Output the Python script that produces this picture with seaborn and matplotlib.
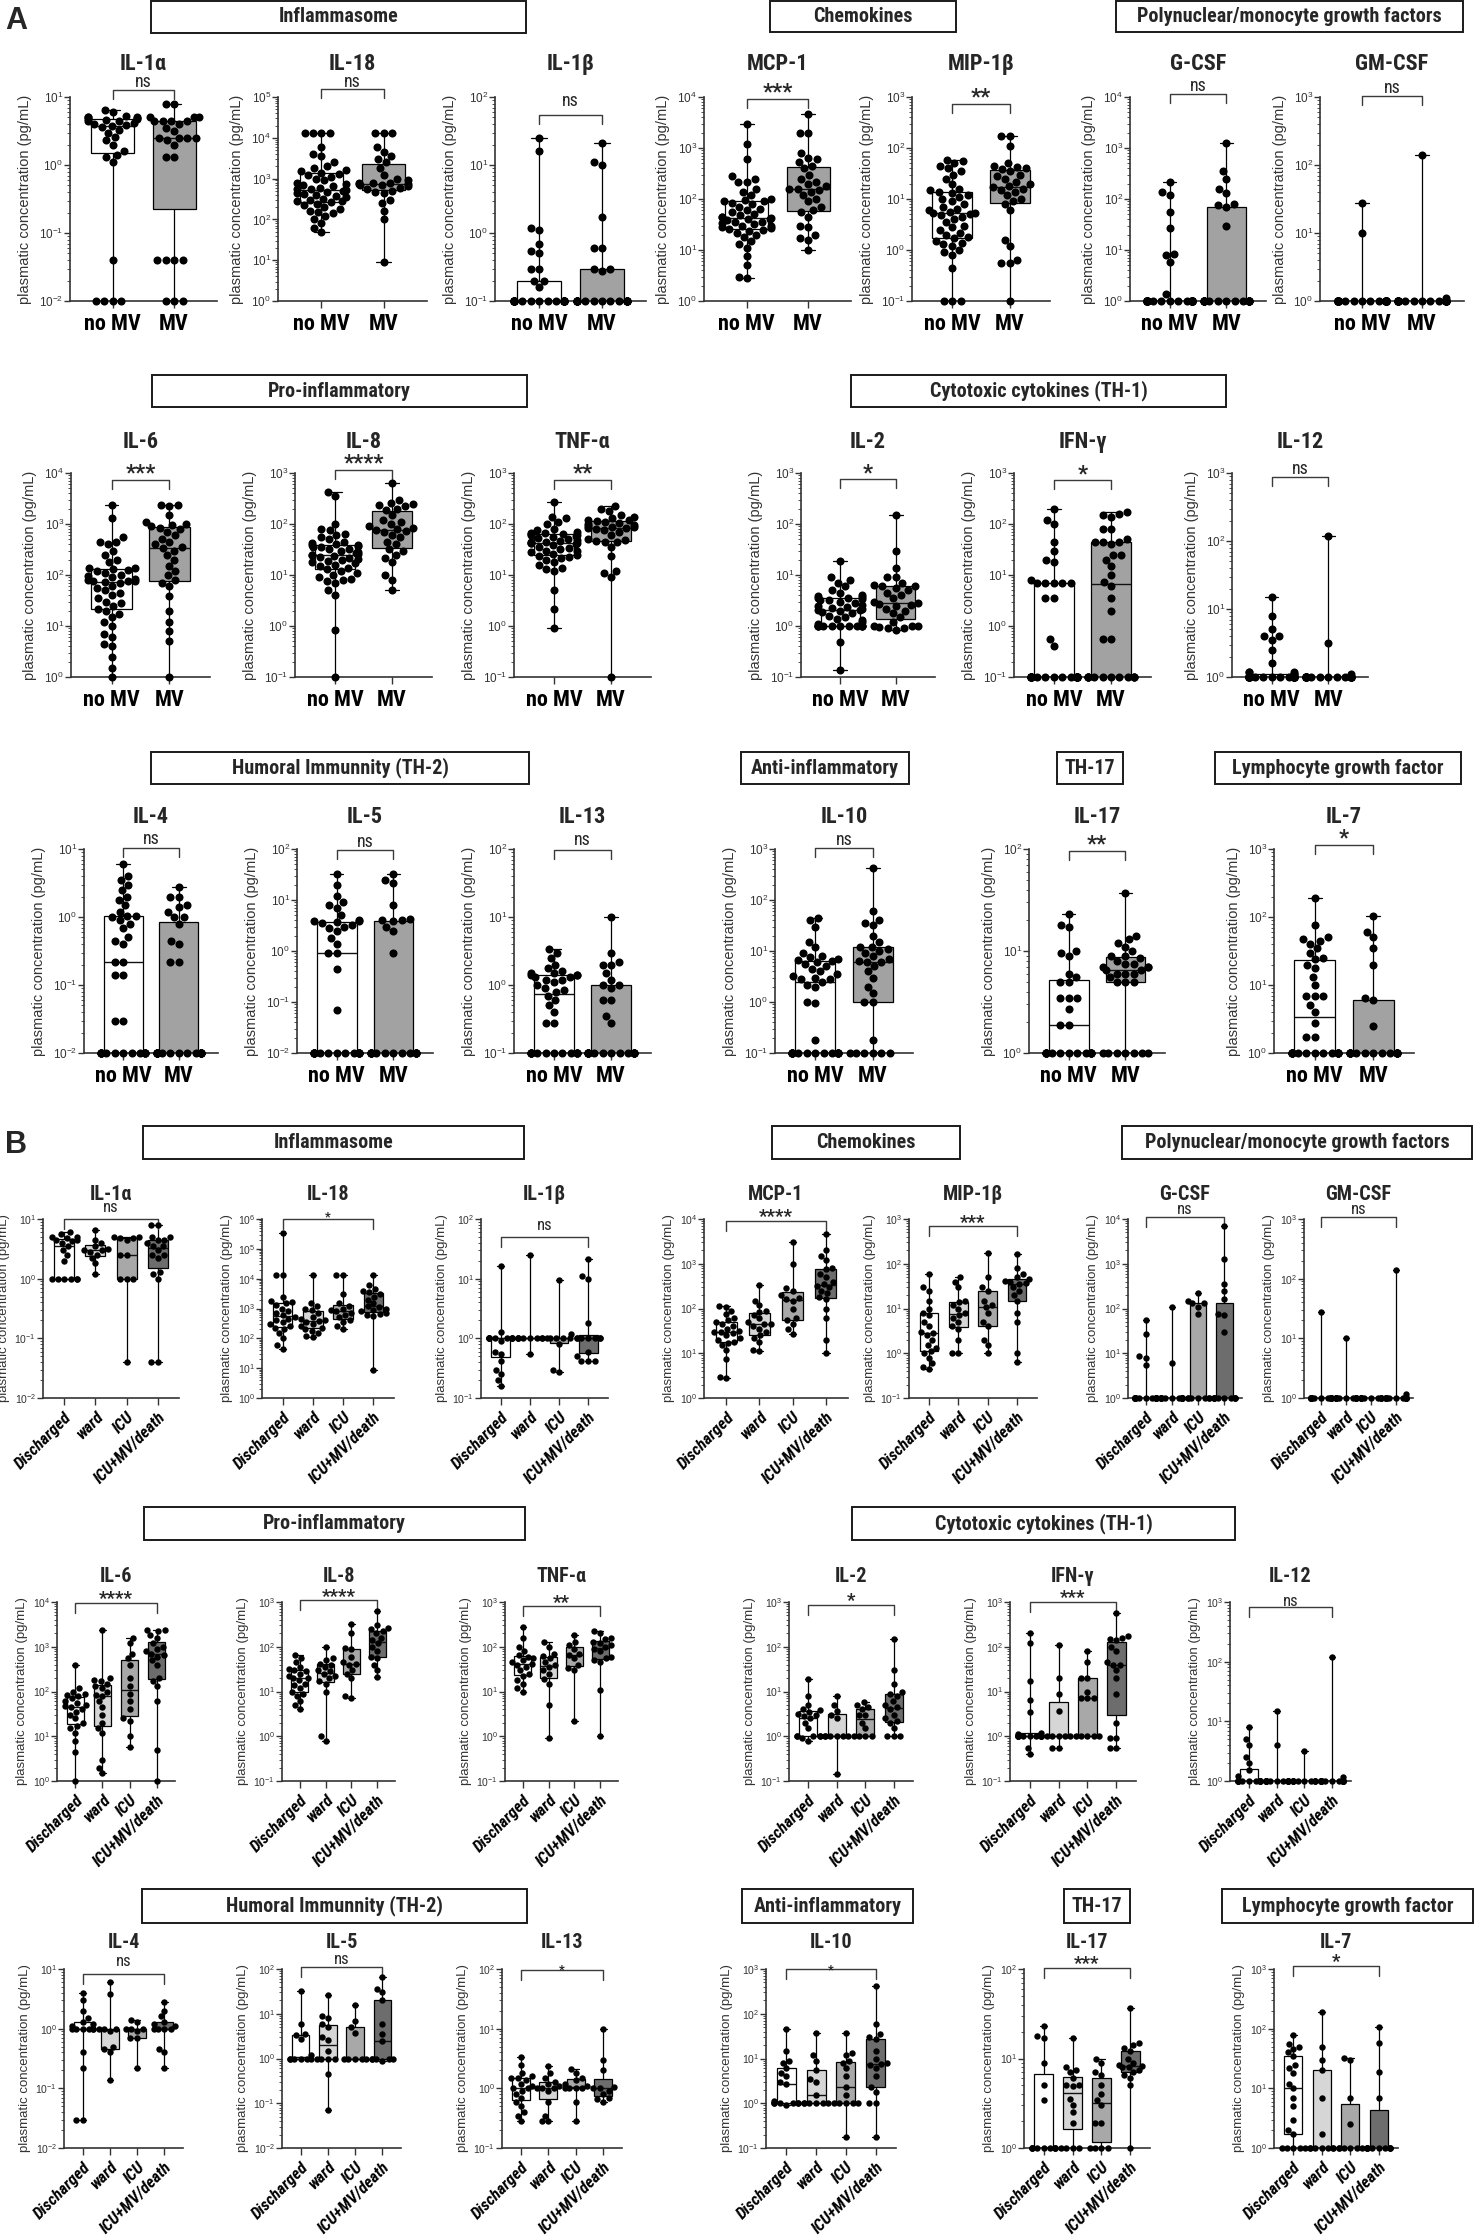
import warnings
import matplotlib
matplotlib.use("Agg")
from matplotlib import pyplot as plt
from matplotlib import font_manager as fm
from matplotlib.patches import Rectangle
from matplotlib.ticker import FixedLocator, LogLocator, NullFormatter
import matplotlib.transforms as mtransforms
import seaborn as sns
import pandas as pd
import numpy as np

warnings.filterwarnings("ignore")

GROUPS_A = ["no MV", "MV"]
GROUPS_B = ["Discharged", "ward", "ICU", "ICU+MV/death"]
COLORS_A = ["#ffffff", "#a2a2a2"]
COLORS_B = ["#ffffff", "#d6d6d6", "#a8a8a8", "#6d6d6d"]

# ---------- panel A : no MV / MV ----------
A_IL1A = [
    [6.5, 6.0, 5.2, 5.0, 5.0, 5.0, 4.9, 4.8, 4.7, 4.6, 4.5, 4.4, 4.2, 4.0, 3.9, 3.8,
     3.6, 3.3, 3.0, 2.6, 2.3, 2.0, 1.6, 1.4, 1.3, 1.1, 0.04] + [0.01] * 4,
    [8, 8, 5, 5, 5, 4.5, 4.5, 4.5, 4.5, 4.0, 3.5, 3.2, 2.5, 2.5, 2.5, 2.5, 2.3, 2.0, 1.3,
     1.3, 0.04, 0.04, 0.04, 0.04, 0.01, 0.01, 0.01],
]
A_IL18 = [
    [13000] * 4 + [6000, 4000, 3500, 2500, 2000, 1800, 1600, 1500, 1400, 1300, 1200, 1100,
     1000, 900, 800, 750, 700, 650, 600, 560, 550, 520, 500, 480, 450, 420, 400, 380, 350,
     320, 300, 290, 280, 260, 240, 220, 200, 180, 160, 150, 140, 120, 100, 80, 60, 50],
    [13000] * 3 + [6000, 4500, 3500, 3000, 2500, 1800, 1200, 1000, 900, 800, 780, 760, 740,
     720, 700, 680, 650, 600, 550, 500, 480, 450, 300, 250, 160, 100, 9],
]
A_IL1B = [
    [25, 16, 1.2, 1.1, 0.7, 0.55, 0.5, 0.3, 0.3, 0.2, 0.2, 0.16] + [0.1] * 28,
    [21, 11, 10, 1.7, 0.6, 0.6, 0.3, 0.3, 0.28] + [0.1] * 21,
]
A_MCP1 = [
    [3000, 1200, 600, 280, 250, 220, 220, 160, 140, 120, 100, 95, 92, 90, 85, 80, 70, 65,
     60, 55, 50, 48, 45, 44, 42, 41, 40, 38, 36, 35, 34, 32, 30, 29, 28, 27, 26, 25, 24, 22,
     20, 18, 15, 13, 11, 7.5, 5, 3, 2.8],
    [4700, 2000, 2000, 800, 650, 600, 540, 450, 400, 300, 250, 220, 200, 180, 160, 160, 150,
     140, 120, 100, 90, 70, 60, 55, 45, 30, 28, 20, 17, 16, 10],
]
A_MIP1B = [
    [58, 55, 50, 45, 40, 35, 30, 25, 20, 16, 15, 14, 13, 12, 11, 10, 9, 8, 7, 6.5, 6, 5.5,
     5.2, 5.2, 5, 4.8, 4.5, 4, 3.5, 3, 2.8, 2.5, 2.2, 2, 1.8, 1.7, 1.5, 1.4, 1.3, 1.2, 1,
     0.9, 0.8, 0.45, 0.1, 0.1, 0.1],
    [175, 170, 110, 50, 45, 42, 40, 38, 35, 30, 28, 25, 22, 20, 18, 17, 16, 15, 14, 12, 10,
     9, 8, 6, 1.6, 1.2, 0.65, 0.55, 0.55, 0.1],
]
A_GCSF = [
    [220, 140, 120, 55, 27, 8.5, 8, 5.8, 1.4] + [1] * 40,
    [1250, 350, 250, 160, 130, 80, 75, 70, 30] + [1] * 20,
]
A_GMCSF = [
    [28, 10] + [1] * 47,
    [140, 1.1] + [1] * 30,
]
A_IL6 = [
    [2400, 1300, 550, 450, 450, 400, 300, 250, 200, 180, 140, 135, 130, 125, 120, 110, 100,
     95, 90, 85, 80, 78, 76, 75, 74, 70, 60, 55, 50, 45, 40, 35, 30, 28, 25, 22, 20, 17, 15,
     12, 10, 7, 6, 4.5, 4, 2.5, 1.5, 1],
    [2400, 2400, 2300, 1500, 1100, 1000, 950, 900, 850, 800, 700, 600, 500, 450, 400, 350,
     340, 300, 250, 200, 150, 120, 100, 80, 70, 60, 38, 20, 12, 8, 5, 1],
]
A_IL8 = [
    [420, 350, 100, 80, 75, 65, 60, 55, 50, 45, 42, 40, 39, 38, 37, 36, 35, 33, 32, 30, 28,
     27, 26, 25, 25, 24, 23, 22, 21, 20, 19, 18, 17, 16, 15, 14, 13, 12, 11, 10, 9, 8.5, 8,
     7.5, 7, 5, 4, 0.85, 0.1],
    [640, 300, 260, 250, 240, 230, 200, 190, 150, 120, 110, 100, 90, 85, 80, 75, 72, 70, 60,
     55, 45, 40, 32, 30, 25, 22, 18, 10, 8, 5],
]
A_TNFA = [
    [270, 140, 130, 110, 100, 80, 75, 70, 68, 66, 65, 64, 62, 60, 58, 55, 52, 50, 48, 46,
     45, 44, 43, 43, 42, 40, 38, 36, 34, 32, 30, 29, 28, 26, 25, 24, 23, 22, 20, 18, 16, 14,
     13, 12, 5, 2.2, 0.9],
    [230, 200, 180, 150, 140, 130, 120, 118, 115, 110, 105, 100, 95, 90, 88, 86, 85, 84, 80,
     75, 70, 60, 50, 48, 46, 45, 45, 35, 24, 12, 11, 9, 0.1],
]
A_IL2 = [
    [19, 9, 8, 7, 6, 5, 4.5, 4, 3.8, 3.7, 3.6, 3.5, 3.4, 3.3, 3.2, 3, 2.8, 2.6, 2.5, 2.4,
     2.3, 2.2, 2.1, 2.1, 2, 1.9, 1.8, 1.6, 1.5, 1.4, 1.3, 1.2, 1.1] + [1] * 11 + [0.48, 0.14],
    [150, 30, 14, 9, 9, 7, 6.5, 6, 6, 5.5, 5, 4.5, 4, 3.5, 3, 2.8, 2.7, 2.6, 2.5, 2.2, 2,
     1.8, 1.5, 1.2, 1, 1, 1, 0.95, 0.9, 0.9, 0.85],
]
A_IFNG = [
    [200, 120, 100, 45, 30, 20, 18, 8, 7, 7, 7, 7, 7, 3.6, 3.6, 0.55, 0.4] + [0.1] * 30,
    [170, 160, 150, 140, 80, 80, 50, 45, 45, 45, 40, 25, 25, 20, 15, 10, 7.2, 6, 3.5, 2,
     0.55, 0.55] + [0.1] * 12,
]
A_IL12 = [
    [15, 8, 5, 4, 4, 3.5, 2.5, 1.6, 1.2, 1.2, 1.2, 1.1, 1.1, 1.05] + [1] * 35,
    [120, 3.2, 1.1] + [1] * 30,
]
A_IL4 = [
    [6, 4, 3.5, 3, 2.5, 2, 1.8, 1.5, 1.2, 1.05, 1.03, 1, 0.9, 0.8, 0.7, 0.5, 0.45, 0.4, 0.22,
     0.22, 0.14, 0.14, 0.03, 0.03] + [0.01] * 14,
    [2.8, 2, 2, 1.5, 1.4, 1.2, 1, 1, 0.8, 0.45, 0.4, 0.22, 0.22] + [0.01] * 19,
]
A_IL5 = [
    [33, 20, 12, 9, 8, 7, 5, 4, 3.9, 3.8, 3.7, 3.5, 3.2, 3, 2.8, 2.5, 1.8, 1.4, 0.9, 0.9,
     0.45, 0.07] + [0.01] * 16,
    [32, 25, 22, 8, 4.2, 4.1, 4, 3.8, 3, 2.5, 0.9] + [0.01] * 16,
]
A_IL13 = [
    [3.4, 3, 2.5, 2, 1.8, 1.6, 1.5, 1.5, 1.4, 1.4, 1.4, 1.3, 1.3, 1.2, 1.2, 1.1, 1, 0.9,
     0.85, 0.8, 0.7, 0.6, 0.5, 0.4, 0.28, 0.28] + [0.1] * 14,
    [10, 3, 2.2, 2, 2, 1.5, 1.2, 1, 1, 0.9, 0.6, 0.6, 0.35, 0.28] + [0.1] * 18,
]
A_IL10 = [
    [45, 40, 30, 15, 12, 9, 8, 7.5, 7, 6.8, 6.5, 6, 5.5, 5, 4.5, 4, 3.5, 3.2, 3, 2.8, 2.8,
     2.5, 2.2, 2, 1, 0.95, 0.18] + [0.1] * 16,
    [420, 60, 40, 35, 32, 20, 15, 12, 12, 11, 10, 9, 8, 7, 6.5, 6.2, 6, 5, 4, 3, 2, 1.5, 1,
     1, 0.18] + [0.1] * 6,
]
A_IL17 = [
    [23, 18, 17, 10, 9.5, 9, 6, 5.5, 5, 5, 3.5, 3.5, 3.5, 2.7, 1.9, 1.9] + [1] * 15,
    [37, 14, 13, 12, 11, 10, 9, 9, 8.5, 8, 7.5, 7.5, 7, 7, 7, 6.5, 6.5, 6, 6, 6, 5.5, 5, 5,
     5] + [1] * 7,
]
A_IL7 = [
    [190, 75, 50, 48, 45, 40, 35, 30, 25, 24, 20, 18, 13, 10, 7, 7, 7, 5, 4, 2.8, 1.7,
     1.7] + [1] * 16,
    [105, 60, 50, 35, 20, 6.5, 6, 2.5] + [1] * 17,
]

# ---------- panel B : Discharged / ward / ICU / ICU+MV/death ----------
B_IL1A = [
    [6, 5.5, 5, 5, 4.8, 4.5, 4.5, 4.2, 4, 3.5, 3, 2.5, 2, 1, 1, 1, 1, 1, 1],
    [6.5, 4.5, 4, 3.5, 3.2, 3, 3, 2.8, 2.5, 2.2, 1.8, 1.2],
    [5, 5, 4.8, 4.8, 4.5, 2.5, 2.5, 1, 1, 1, 0.04],
    [8, 8, 5, 5, 4.5, 4.5, 4, 3.5, 3.5, 3, 2.5, 2.5, 2.2, 1.3, 1.2, 1, 0.04, 0.04],
]
B_IL18 = [
    [350000, 13000, 13000, 2500, 1800, 1700, 1500, 1300, 1000, 800, 700, 600, 500, 450, 400,
     350, 300, 250, 230, 200, 150, 100, 60, 45],
    [13000, 1500, 1200, 1000, 900, 700, 500, 450, 400, 380, 350, 300, 250, 220, 210, 180,
     150, 120, 110],
    [13000, 13000, 3000, 1500, 1200, 1000, 900, 800, 700, 600, 500, 400, 350, 250, 200],
    [13000, 6000, 4500, 4000, 3500, 3000, 2500, 2000, 1500, 1200, 1100, 1000, 900, 800, 700,
     650, 600, 550, 9],
]
B_IL1B = [
    [16, 1.3, 1, 1, 1, 1, 1, 1, 1, 1, 1, 0.9, 0.6, 0.55, 0.42, 0.3, 0.25, 0.2, 0.16],
    [25, 1, 1, 1, 1, 1, 1, 1, 1, 0.55],
    [9.5, 1.2, 1, 1, 1, 1, 1, 0.8, 0.3, 0.27],
    [21, 11, 10, 1.8] + [1] * 7 + [0.6, 0.5, 0.42, 0.42, 0.42],
]
B_MCP1 = [
    [115, 110, 90, 75, 60, 55, 50, 45, 40, 35, 32, 30, 30, 28, 25, 22, 20, 18, 17, 15, 12,
     7.5, 3, 2.8],
    [340, 150, 120, 90, 85, 70, 60, 50, 45, 45, 40, 35, 30, 25, 22, 18, 12, 11],
    [3000, 1000, 280, 250, 200, 170, 160, 150, 100, 60, 55, 45, 35, 27],
    [4700, 2000, 1500, 1200, 800, 750, 600, 500, 400, 350, 320, 300, 250, 220, 180, 160,
     100, 60, 20, 10],
]
B_MIP1B = [
    [58, 30, 25, 15, 10, 8, 7, 5, 4, 3, 2.8, 2.5, 2, 1.5, 1.3, 1.1, 1, 0.8, 0.6, 0.5, 0.45],
    [50, 40, 30, 15, 14, 12, 10, 8, 7, 6, 5, 4, 3.5, 2, 1, 1],
    [175, 50, 30, 25, 15, 12, 11, 8, 5, 4, 2, 1.5, 1],
    [165, 80, 60, 50, 45, 42, 40, 38, 35, 30, 25, 20, 15, 8, 5, 1, 0.65],
]
B_GCSF = [
    [55, 27, 8.5, 8, 5.5] + [1] * 20,
    [110, 6] + [1] * 15,
    [220, 150, 130, 130, 110, 75] + [1] * 7,
    [7000, 1300, 350, 250, 160, 75, 70, 30] + [1] * 10,
]
B_GMCSF = [
    [28] + [1] * 20,
    [10] + [1] * 14,
    [1] * 12,
    [140, 1.15] + [1] * 18,
]
B_IL6 = [
    [400, 120, 100, 90, 85, 80, 70, 60, 55, 50, 48, 45, 40, 35, 30, 25, 20, 17, 15, 12, 8,
     4.5, 1],
    [2400, 200, 180, 170, 150, 130, 120, 100, 85, 80, 60, 45, 30, 20, 15, 12, 3, 2, 1.5],
    [1600, 1200, 700, 550, 400, 200, 130, 90, 60, 40, 25, 22, 10, 5.8],
    [2400, 2400, 2200, 1800, 1600, 1200, 1000, 900, 800, 700, 650, 600, 500, 400, 200, 170,
     130, 60, 5, 1],
]
B_IL8 = [
    [65, 55, 45, 35, 32, 30, 28, 25, 22, 20, 20, 18, 15, 14, 12, 10, 9, 8, 6, 5, 4],
    [100, 55, 50, 42, 40, 35, 30, 28, 25, 22, 20, 17, 15, 10, 1, 0.8],
    [320, 200, 95, 90, 60, 45, 42, 40, 30, 25, 20, 8, 7],
    [640, 300, 260, 250, 220, 200, 160, 140, 120, 100, 80, 60, 55, 40, 30, 21],
]
B_TNFA = [
    [270, 160, 100, 80, 65, 60, 55, 50, 45, 42, 40, 35, 30, 25, 22, 18, 15, 12, 10],
    [125, 100, 70, 62, 55, 45, 40, 35, 30, 25, 19, 15, 5, 0.9],
    [185, 130, 110, 90, 70, 65, 55, 40, 33, 30, 2.2],
    [230, 200, 160, 150, 130, 120, 110, 100, 90, 80, 60, 55, 50, 45, 11, 1],
]
B_IL2 = [
    [19, 8, 5, 4, 3.8, 3.5, 3.2, 3, 2.8, 2.5, 2, 1.5, 1, 1, 1, 1, 1, 0.9, 0.8],
    [8, 5, 3.7, 3, 2.5, 1, 1, 1, 1, 1, 1, 0.14],
    [5.8, 5, 4.5, 4, 3, 3, 2, 1.5, 1, 1, 1, 1],
    [150, 30, 15, 10, 9, 8, 6, 5, 4.5, 4, 3, 2.5, 2.2, 2, 1.5, 1, 1, 1],
]
B_IFNG = [
    [200, 120, 17, 6.5, 3.5, 1.2, 1.1] + [1] * 12 + [0.55, 0.4],
    [110, 20, 9, 3.7, 1, 1, 1, 1, 1, 0.55, 0.55],
    [80, 45, 20, 20, 10, 7, 7, 7, 1, 1, 1, 1, 1],
    [560, 170, 160, 150, 140, 100, 80, 45, 40, 40, 30, 20, 9, 2, 0.9, 0.9, 0.55, 0.55],
]
B_IL12 = [
    [8, 5, 4, 2.5, 2, 1.5, 1.2] + [1] * 13,
    [15, 4] + [1] * 14,
    [3.2] + [1] * 10,
    [120, 1.15] + [1] * 18,
]
B_IL4 = [
    [4, 3, 2, 1.5, 1.3, 1.2, 1.1, 1, 1, 1, 1, 1, 1, 0.4, 0.22, 0.03, 0.03],
    [6, 3.8, 1, 1, 1, 0.9, 0.5, 0.45, 0.4, 0.14],
    [1.4, 1.3, 1, 1, 1, 0.9, 0.7, 0.7, 0.22],
    [2.8, 2, 1.6, 1.3, 1.2, 1.1, 1, 1, 1, 1, 0.45, 0.4, 0.22],
]
B_IL5 = [
    [33, 6, 3.5, 3.4, 2.7, 1.2, 1, 1, 1, 1, 1, 1],
    [26, 9, 8, 6, 5, 3, 2.6, 1.5, 1, 1, 1, 1, 0.45, 0.07],
    [16, 7, 5, 3.8, 1, 1, 1, 1, 1],
    [65, 35, 30, 20, 6, 3.5, 2.5, 1, 1, 1, 1, 1, 0.9],
]
B_IL13 = [
    [3.3, 2.5, 1.8, 1.6, 1.5, 1.5, 1.4, 1.2, 1.1, 1, 1, 0.9, 0.8, 0.7, 0.6, 0.5, 0.4, 0.35,
     0.28],
    [2.4, 1.8, 1.5, 1.3, 1.2, 1.1, 1, 1, 1, 0.9, 0.6, 0.35, 0.28, 0.28],
    [2.1, 1.8, 1.5, 1.4, 1.2, 1.1, 1, 1, 1, 1, 0.6, 0.28],
    [10, 3, 2, 1.05, 1, 1, 0.9, 0.8, 0.7, 0.65, 0.6],
]
B_IL10 = [
    [45, 15, 9, 8, 6, 4.8, 4, 3, 2.7, 1.1, 1, 1, 1, 1, 1, 1, 0.9],
    [38, 12, 9, 5.5, 3.5, 3, 1.5, 1, 1, 1, 1, 1, 1],
    [38, 13, 12, 9, 8, 6, 4, 2.3, 1.5, 1, 1, 1, 1, 1, 0.18],
    [420, 60, 35, 30, 27, 15, 10, 8, 7.5, 7, 6, 4, 2.3, 1.8, 1, 1, 0.18],
]
B_IL17 = [
    [23, 18, 17, 9, 5, 3.4] + [1] * 9,
    [17, 8, 7.5, 7, 6, 5, 5, 4.9, 3.5, 3, 2.5, 1.9, 1, 1, 1, 1],
    [10, 9, 7, 6.5, 5, 4, 3.4, 3, 1.9, 1.9, 1, 1, 1, 1],
    [37, 15, 14, 13, 12, 10, 9, 8.5, 8.2, 8, 8, 7.5, 7, 6.5, 6, 5, 1],
]
B_IL7 = [
    [78, 55, 50, 45, 40, 35, 25, 22, 18, 12, 10, 7, 5, 3, 2, 1.7, 1, 1, 1, 1, 1],
    [190, 50, 30, 20, 7, 1.7, 1, 1, 1, 1, 1, 1, 1],
    [32, 30, 7, 2.5, 1, 1, 1, 1, 1, 1],
    [105, 58, 19, 7] + [1] * 10,
]

# ---------- layout (pixels of the 1476 x 2239 page) ----------
W, H = 1476, 2239

# (title, data, log lo, log hi, x0, x1, significance, bracket y, text y)
ROWS = [
    ("A", 97, 301, 64, [
        ("IL-1α", A_IL1A, -2, 1, 70, 217, "ns", 90, 82),
        ("IL-18", A_IL18, 0, 5, 278, 427, "ns", 89, 82),
        ("IL-1β", A_IL1B, -1, 2, 495, 646, "ns", 115, 101),
        ("MCP-1", A_MCP1, 0, 4, 704, 851, "***", 99, 86),
        ("MIP-1β", A_MIP1B, -1, 3, 912, 1050, "**", 104, 91),
        ("G-CSF", A_GCSF, 0, 4, 1130, 1266, "ns", 94, 86),
        ("GM-CSF", A_GMCSF, 0, 3, 1320, 1464, "ns", 96, 88),
    ]),
    ("A", 473, 677, 442, [
        ("IL-6", A_IL6, 0, 4, 71, 210, "***", 480, 467),
        ("IL-8", A_IL8, -1, 3, 295, 432, "****", 470, 457),
        ("TNF-α", A_TNFA, -1, 3, 514, 651, "**", 480, 467),
        ("IL-2", A_IL2, -1, 3, 801, 935, "*", 479, 467),
        ("IFN-γ", A_IFNG, -1, 3, 1014, 1151, "*", 480, 468),
        ("IL-12", A_IL12, 0, 3, 1232, 1368, "ns", 477, 469),
    ]),
    ("A", 849, 1053, 817, [
        ("IL-4", A_IL4, -2, 1, 84, 218, "ns", 848, 839),
        ("IL-5", A_IL5, -2, 2, 297, 433, "ns", 850, 842),
        ("IL-13", A_IL13, -1, 2, 514, 651, "ns", 850, 840),
        ("IL-10", A_IL10, -1, 3, 775, 913, "ns", 848, 840),
        ("IL-17", A_IL17, 0, 2, 1029, 1165, "**", 851, 838),
        ("IL-7", A_IL7, 0, 3, 1274, 1414, "*", 845, 832),
    ]),
    ("B", 1219, 1398, 1194, [
        ("IL-1α", B_IL1A, -2, 1, 43, 179, "ns", 1219, 1208),
        ("IL-18", B_IL18, 0, 6, 262, 394, "*", 1219, 1213),
        ("IL-1β", B_IL1B, -1, 2, 481, 608, "ns", 1237, 1225),
        ("MCP-1", B_MCP1, 0, 4, 704, 848, "****", 1221, 1211),
        ("MIP-1β", B_MIP1B, -1, 3, 909, 1037, "***", 1226, 1217),
        ("G-CSF", B_GCSF, 0, 4, 1128, 1242, "ns", 1217, 1209),
        ("GM-CSF", B_GMCSF, 0, 3, 1304, 1413, "ns", 1217, 1210),
    ]),
    ("B", 1602, 1781, 1576, [
        ("IL-6", B_IL6, 0, 4, 57, 175, "****", 1603, 1593),
        ("IL-8", B_IL8, -1, 3, 282, 395, "****", 1600, 1591),
        ("TNF-α", B_TNFA, -1, 3, 505, 618, "**", 1606, 1597),
        ("IL-2", B_IL2, -1, 3, 789, 913, "*", 1605, 1595),
        ("IFN-γ", B_IFNG, -1, 3, 1010, 1136, "***", 1602, 1592),
        ("IL-12", B_IL12, 0, 3, 1230, 1351, "ns", 1607, 1601),
    ]),
    ("B", 1969, 2148, 1942, [
        ("IL-4", B_IL4, -2, 1, 64, 183, "ns", 1974, 1961),
        ("IL-5", B_IL5, -2, 2, 282, 401, "ns", 1967, 1959),
        ("IL-13", B_IL13, -1, 2, 502, 622, "*", 1970, 1966),
        ("IL-10", B_IL10, -1, 3, 766, 896, "*", 1969, 1966),
        ("IL-17", B_IL17, 0, 2, 1024, 1150, "***", 1968, 1958),
        ("IL-7", B_IL7, 0, 3, 1274, 1398, "*", 1966, 1956),
    ]),
]

HEADERS = [
    ("Inflammasome", 151, 526, 1, 33),
    ("Chemokines", 770, 956, 1, 32),
    ("Polynuclear/monocyte growth factors", 1116, 1463, 1, 32),
    ("Pro-inflammatory", 152, 527, 375, 407),
    ("Cytotoxic cytokines (TH-1)", 851, 1226, 375, 407),
    ("Humoral Immunnity (TH-2)", 151, 529, 752, 784),
    ("Anti-inflammatory", 741, 909, 752, 784),
    ("TH-17", 1057, 1123, 752, 784),
    ("Lymphocyte growth factor", 1215, 1461, 752, 784),
    ("Inflammasome", 143, 524, 1126, 1159),
    ("Chemokines", 772, 960, 1126, 1159),
    ("Polynuclear/monocyte growth factors", 1122, 1472, 1126, 1159),
    ("Pro-inflammatory", 144, 525, 1507, 1540),
    ("Cytotoxic cytokines (TH-1)", 852, 1235, 1507, 1540),
    ("Humoral Immunnity (TH-2)", 142, 527, 1889, 1923),
    ("Anti-inflammatory", 742, 913, 1889, 1923),
    ("TH-17", 1064, 1130, 1889, 1923),
    ("Lymphocyte growth factor", 1222, 1473, 1889, 1923),
]


def pick_narrow():
    # the reference uses a condensed bold sans; take the narrowest one installed
    names = {f.name for f in fm.fontManager.ttflist}
    for cand in ("Liberation Sans Narrow", "Roboto Condensed", "Noto Sans Condensed",
                 "Open Sans Condensed", "Arial Narrow", "DejaVu Sans Condensed"):
        if cand in names:
            return cand, "normal", True
    for f in fm.fontManager.ttflist:
        if "condensed" in str(f.stretch).lower() and "italic" not in str(f.style):
            return f.name, "condensed", True
    return "Roboto", "normal", False


NARROW_NAME, NARROW_STRETCH, IS_NARROW = pick_narrow()
K = 1.0 if IS_NARROW else 0.88


def nfont(**kw):
    kw.setdefault("family", [NARROW_NAME, "DejaVu Sans"])
    kw.setdefault("stretch", NARROW_STRETCH)
    return kw


def header(fig, text, x0, x1, y0, y1):
    fig.patches.append(Rectangle((x0 / W, 1 - y1 / H), (x1 - x0) / W, (y1 - y0) / H,
                                 transform=fig.transFigure, fill=False, lw=1.4,
                                 ec="#1a1a1a"))
    fig.text((x0 + x1) / 2 / W, 1 - (y0 + y1) / 2 / H, text, ha="center", va="center",
             fontsize=14.5 * K, **nfont(weight="bold"))


def panel(fig, part, top, bottom, title_y, spec):
    title, data, lo, hi, x0, x1, sig, br_y, sig_y = spec
    if part == "A":
        groups, colors, bw, dot, xl = GROUPS_A, COLORS_A, 0.7, 5.8, (-0.7, 1.7)
    else:
        groups, colors, bw, dot, xl = GROUPS_B, COLORS_B, 0.64, 4.6, (-0.68, 3.68)
    df = pd.DataFrame({
        "group": np.repeat(groups, [len(v) for v in data]),
        "value": np.concatenate([np.asarray(v, float) for v in data]),
    })
    hpx = bottom - top
    ax = fig.add_axes([x0 / W, 1 - bottom / H, (x1 - x0) / W, hpx / H])
    box_kw = dict(data=df, x="group", y="value", hue="group", order=groups,
                  hue_order=groups, palette=colors, saturation=1, whis=(0, 100),
                  width=bw, linecolor="black", linewidth=0.9, showfliers=False,
                  log_scale=True, legend=False, ax=ax,
                  medianprops={"color": "#111111", "linewidth": 1.0})
    try:
        sns.boxplot(capwidths=0.24, **box_kw)
    except Exception:
        ax.cla()
        sns.boxplot(**box_kw)
    sns.swarmplot(data=df, x="group", y="value", order=groups, color="black",
                  size=dot, log_scale=True, clip_on=False, zorder=5, ax=ax)

    ax.set_xlim(*xl)
    ax.set_ylim(10.0 ** lo, 10.0 ** hi)
    ax.yaxis.set_major_locator(FixedLocator([10.0 ** k for k in range(lo, hi + 1)]))
    ax.set_yticklabels([f"$10^{{{k}}}$" for k in range(lo, hi + 1)])
    ax.yaxis.set_minor_locator(LogLocator(base=10, subs=np.arange(2, 10), numticks=20))
    ax.yaxis.set_minor_formatter(NullFormatter())
    for s in ("top", "right"):
        ax.spines[s].set_visible(False)
    for s in ("left", "bottom"):
        ax.spines[s].set_color("#333333")
        ax.spines[s].set_linewidth(1.2)
    ax.tick_params(axis="y", which="major", length=4, width=1,
                   labelsize=8.5 if part == "A" else 7.5, colors="#333333", pad=1)
    ax.tick_params(axis="y", which="minor", length=2, width=0.6, colors="#333333")
    ax.tick_params(axis="x", length=5, width=1, colors="#333333", labelcolor="black")
    ax.set_xlabel("")
    ax.set_ylabel("plasmatic concentration (pg/mL)", fontsize=10.5 if part == "A" else 9.5,
                  color="#333333", labelpad=5 if part == "A" else 3)
    ax.set_xticks(range(len(groups)))
    if part == "A":
        ax.set_xticklabels(groups, fontsize=16 * K, **nfont(weight="bold"))
    else:
        ax.set_xticklabels(groups, fontsize=12 * K, rotation=45, ha="right",
                           rotation_mode="anchor",
                           **nfont(weight="bold", style="italic"))

    # significance bracket
    blend = mtransforms.blended_transform_factory(ax.transData, ax.transAxes)
    yb = (bottom - br_y) / hpx
    drop = (9 if part == "A" else 10) / hpx
    x_end = len(groups) - 1
    ax.plot([0, 0, x_end, x_end], [yb - drop, yb, yb, yb - drop], color="#3a3a3a",
            lw=1.0, transform=blend, clip_on=False)
    if sig == "ns":
        fs = (13 if part == "A" else 12) * K
        ax.text(x_end / 2, (bottom - sig_y) / hpx, sig, transform=blend, ha="center",
                va="center", fontsize=fs, **nfont())
    else:
        small = part == "B" and sig == "*" and (br_y - sig_y) < 7
        fs = 9 if small else (16 if part == "A" else 13.5) * K
        off = fs * 100 / 72 * 0.3
        ax.text(x_end / 2, (bottom - sig_y - off) / hpx, sig, transform=blend,
                ha="center", va="center", fontsize=fs, **nfont(weight="bold"))

    tfs = (16 if part == "A" else 14.5) * K
    fig.text((x0 + x1) / 2 / W, 1 - title_y / H, title, ha="center", va="center",
             fontsize=tfs, **nfont(weight="bold"))


def main():
    sns.set_theme(style="ticks")
    plt.rcParams["font.family"] = ["Liberation Sans", "DejaVu Sans"]
    plt.rcParams["mathtext.default"] = "regular"
    fig = plt.figure(figsize=(W / 100, H / 100), dpi=100)
    fig.patch.set_facecolor("white")

    for text, x0, x1, y0, y1 in HEADERS:
        header(fig, text, x0, x1, y0, y1)
    fig.text(5 / W, 1 - 21 / H, "A", fontsize=22, weight="bold", va="center",
             family=["Liberation Sans", "DejaVu Sans"])
    fig.text(5 / W, 1 - 1145 / H, "B", fontsize=22, weight="bold", va="center",
             family=["Liberation Sans", "DejaVu Sans"])

    for part, top, bottom, title_y, specs in ROWS:
        for spec in specs:
            panel(fig, part, top, bottom, title_y, spec)

    fig.savefig("out.png", dpi=100, facecolor="white")


if __name__ == "__main__":
    main()
